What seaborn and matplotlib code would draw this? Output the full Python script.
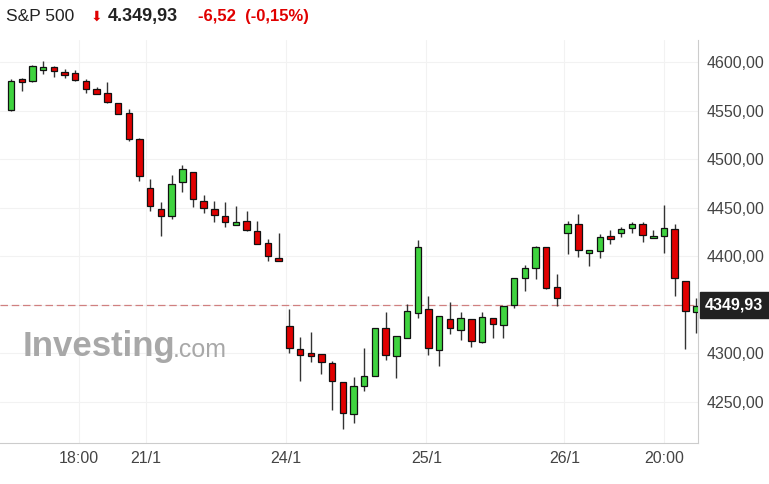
import matplotlib
matplotlib.use("Agg")
import matplotlib.pyplot as plt
import seaborn as sns
import numpy as np

opens = [4550.6,4582.2,4580.1,4591.8,4595.2,4589.7,4588.7,4580.8,4571.9,4568.1,4557.5,4547.5,4520.4,4470.3,4449.0,4441.2,4476.2,4486.8,4457.2,4448.4,4441.8,4432.2,4436.6,4426.3,4413.7,4397.9,
         4328.5,4304.3,4300.1,4299.1,4289.8,4270.3,4238.0,4266.2,4276.8,4325.9,4297.0,4316.2,4341.3,4345.4,4303.8,4335.1,4324.4,4335.1,4311.5,4336.2,4329.3,4350.2,4377.3,
         4388.3,4409.6,4368.4,4423.7,4433.2,4403.1,4405.1,4421.2,4423.7,4428.8,4432.9,4418.5,4420.6,4427.8,4374.9,4342.6]
highs = [4582.2,4583.5,4596.9,4601.0,4596.2,4592.8,4591.8,4582.5,4574.0,4579.1,4558.1,4551.6,4521.5,4479.6,4455.6,4483.4,4494.0,4486.8,4463.1,4456.9,4455.6,4451.8,4446.6,4436.3,4418.1,4424.3,
         4345.7,4316.6,4321.8,4299.1,4292.2,4270.3,4275.4,4305.3,4325.9,4342.3,4317.9,4350.9,4416.8,4359.1,4338.5,4352.6,4342.3,4335.1,4342.3,4336.2,4348.5,4377.3,4391.0,
         4410.6,4409.6,4382.1,4436.3,4443.8,4406.5,4423.3,4427.1,4430.5,4435.0,4435.0,4427.1,4452.8,4433.5,4374.9,4357.4]
lows = [4549.9,4570.5,4579.7,4587.6,4584.2,4583.5,4580.8,4567.8,4566.8,4557.5,4546.2,4519.0,4477.8,4446.6,4420.9,4438.1,4465.9,4450.4,4444.2,4435.0,4429.8,4432.2,4426.0,4412.3,4395.1,4394.8,
        4300.1,4271.9,4290.9,4278.5,4242.1,4221.9,4228.1,4261.3,4276.8,4293.5,4274.4,4315.6,4336.2,4298.7,4287.1,4319.7,4314.1,4306.9,4310.8,4315.6,4315.6,4346.5,4364.6,
        4376.3,4366.3,4349.1,4402.0,4399.6,4390.3,4397.9,4412.3,4419.9,4423.7,4414.4,4418.5,4403.1,4359.4,4304.3,4320.7]
closes = [4580.4,4579.1,4596.2,4594.9,4590.4,4586.6,4581.5,4571.9,4567.4,4558.5,4546.8,4520.4,4482.3,4451.5,4441.2,4474.1,4489.9,4459.3,4450.0,4442.5,4435.0,4435.3,4427.1,4413.0,4400.0,4394.8,
          4305.3,4298.4,4297.0,4290.9,4271.3,4239.0,4266.8,4277.1,4325.9,4298.4,4317.9,4344.0,4409.6,4305.3,4338.5,4325.9,4336.2,4312.8,4337.2,4330.0,4348.5,4377.3,4387.6,
          4409.6,4367.7,4356.8,4433.2,4406.5,4406.5,4419.9,4418.1,4428.1,4432.9,4422.2,4421.2,4429.1,4378.0,4343.4,4348.8]

tick_pos = [6.36, 12.6, 25.7, 38.8, 51.7, 61.0]
tick_labels = ["18:00", "21/1", "24/1", "25/1", "26/1", "20:00"]
y_ticks = [4250, 4300, 4350, 4400, 4450, 4500, 4550, 4600]
y_labels = ["4250,00", "4300,00", "", "4400,00", "4450,00", "4500,00", "4550,00", "4600,00"]
last_price = 4349.93

sns.set_style("white")
plt.rcParams["font.family"] = ["Liberation Sans", "DejaVu Sans"]
fig = plt.figure(figsize=(7.69, 4.84), dpi=100)
ax = fig.add_axes([0.0, 0.085, 0.908, 0.832])

o = np.array(opens); c = np.array(closes); h = np.array(highs); l = np.array(lows)
x = np.arange(len(o))
up = c >= o
cols = np.where(up, "#3fd33f", "#e00000")
ax.vlines(x, l, h, color="#333333", lw=1, zorder=2)
ax.bar(x, np.maximum(np.abs(c - o), 0.8), bottom=np.minimum(o, c), width=0.6,
       color=cols, edgecolor="#111111", lw=0.9, zorder=3)

ax.axhline(last_price, color="#d08080", lw=0.9, ls=(0, (6, 3)), zorder=1)

ax.set_xlim(-1.03, 64.2)
ax.set_ylim(4207.8, 4622.6)
ax.set_xticks(tick_pos)
ax.set_xticklabels(tick_labels, fontsize=11.5, color="#444444")
ax.set_yticks(y_ticks)
ax.set_yticklabels(y_labels, fontsize=11.5, color="#444444")
ax.yaxis.tick_right()
ax.tick_params(axis="both", length=0, pad=6)
ax.grid(True, color="#f2f2f2", lw=0.8)
ax.set_axisbelow(True)
for s in ["top", "left"]:
    ax.spines[s].set_visible(False)
ax.spines["right"].set_color("#cccccc")
ax.spines["bottom"].set_color("#cccccc")

ax.text(1.01, (last_price - 4207.8) / (4622.6 - 4207.8), "4349,93", transform=ax.transAxes,
        ha="left", va="center", fontsize=11.5, fontweight="bold", color="white",
        bbox=dict(boxstyle="square,pad=0.35", fc="#222222", ec="#222222"))

fig.text(0.030, 0.285, "Investing", fontsize=25, fontweight="bold", color="#a8a8a8", ha="left", va="center")
fig.text(0.224, 0.277, ".com", fontsize=18, color="#a8a8a8", ha="left", va="center")

fig.text(0.008, 0.965, "S&P 500", fontsize=12.5, color="#222222", ha="left", va="center")
fig.text(0.118, 0.965, "\u2b07", fontsize=10, color="#e00000", ha="left", va="center", family="DejaVu Sans")
fig.text(0.140, 0.965, "4.349,93", fontsize=13, fontweight="bold", color="#222222", ha="left", va="center")
fig.text(0.258, 0.965, "-6,52  (-0,15%)", fontsize=12, fontweight="bold", color="#e00000", ha="left", va="center")

fig.savefig("out.png", dpi=100)
